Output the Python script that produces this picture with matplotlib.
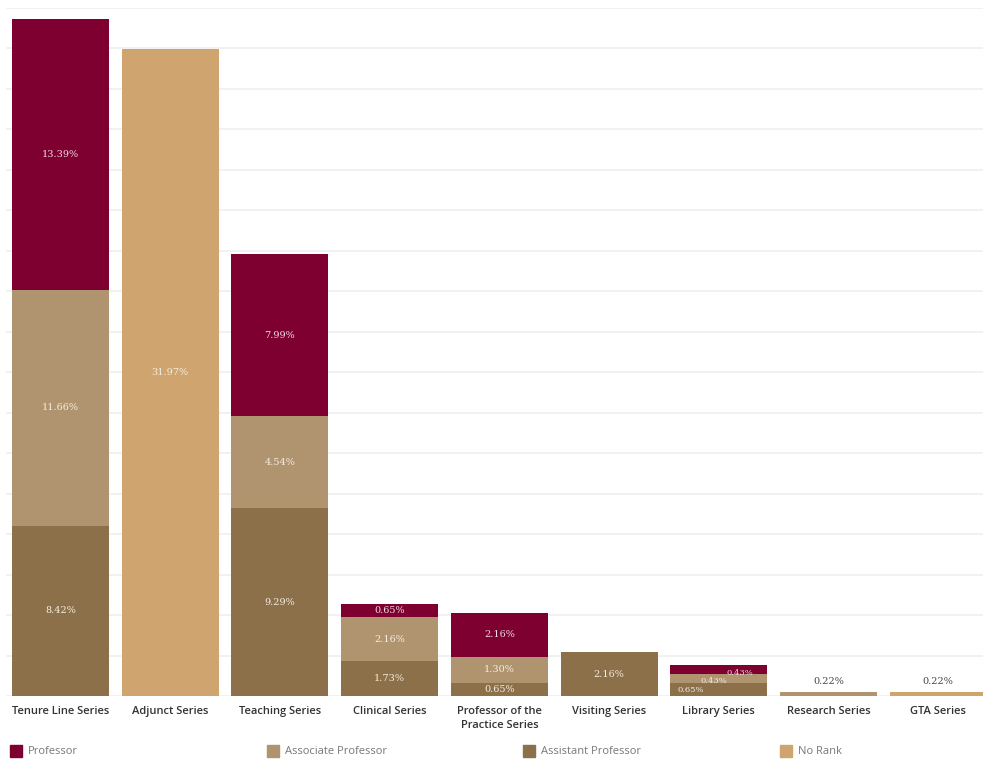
import numpy as np
import matplotlib.pyplot as plt
from matplotlib.patches import Rectangle

# ---- data (percent of faculty, by series and rank) ----
series = ["Tenure Line Series", "Adjunct Series", "Teaching Series",
          "Clinical Series", "Professor of the\nPractice Series",
          "Visiting Series", "Library Series", "Research Series", "GTA Series"]
assistant = [8.42, 0, 9.29, 1.73, 0.65, 2.16, 0.65, 0, 0]
associate = [11.66, 0, 4.54, 2.16, 1.30, 0, 0.43, 0.22, 0]
professor = [13.39, 0, 7.99, 0.65, 2.16, 0, 0.43, 0, 0]
no_rank = [0, 31.97, 0, 0, 0, 0, 0, 0, 0.22]

ranks = ["Professor", "Associate Professor", "Assistant Professor", "No Rank"]
colors = {"Professor": "#7d0030",
          "Associate Professor": "#b09470",
          "Assistant Professor": "#8c704a",
          "No Rank": "#cfa46e"}

# stacking order bottom -> top
stack = [("Assistant Professor", assistant),
         ("Associate Professor", associate),
         ("Professor", professor),
         ("No Rank", no_rank)]

plt.rcParams["font.family"] = ["Open Sans", "DejaVu Sans"]

fig = plt.figure(figsize=(9.83, 7.6), dpi=100)
# plot area runs a little past the right edge, so the last bar is cut off
ax = fig.add_axes([5.6 / 983, 64 / 760, 987.5 / 983, 688 / 760])

x = np.arange(len(series))
bottom = np.zeros(len(series))
small = {7, 8}  # thin bars get their label above, in dark text

# nudges (px) and size for the crowded Library Series labels
nudge = {(6, "Assistant Professor"): (-28, -1),
         (6, "Associate Professor"): (-5, -3),
         (6, "Professor"): (21, -3)}

for name, vals in stack:
    vals = np.array(vals, dtype=float)
    ax.bar(x, vals, bottom=bottom, width=0.885, color=colors[name],
           edgecolor="none", zorder=2)
    for i, v in enumerate(vals):
        if v <= 0:
            continue
        lab = f"{v:.2f}%"
        if i in small:
            ax.annotate(lab, (x[i], bottom[i] + v), xytext=(0, 4),
                        textcoords="offset points", ha="center", va="bottom",
                        fontsize=7, color="#444444", family="DejaVu Serif")
        else:
            dx, dy = nudge.get((i, name), (0, 0))
            fs = 6 if (i, name) in nudge else 7
            txt_c = "#f2dbe3" if name == "Professor" else "#f4ece0"
            ax.annotate(lab, (x[i], bottom[i] + v / 2), xytext=(dx * 0.72, dy * 0.72),
                        textcoords="offset points", ha="center", va="center",
                        fontsize=fs, color=txt_c, family="DejaVu Serif")
    bottom += vals

ax.set_xlim(-0.5, len(series) - 0.5)
ax.set_ylim(0, 34)
ax.set_yticks(np.arange(0, 35, 2))
ax.yaxis.grid(True, color="#efefef", lw=1.2, zorder=0)
ax.tick_params(axis="y", left=False, labelleft=False)
ax.tick_params(axis="x", length=0, pad=7)
ax.set_xticks(x)
ax.set_xticklabels(series, fontsize=8, fontweight="semibold", color="#333333",
                   linespacing=1.4)
for sp in ax.spines.values():
    sp.set_visible(False)

# legend row along the bottom
for k, name in enumerate(ranks):
    x0 = (10 + k * 256.5) / 983
    fig.add_artist(Rectangle((x0, 3 / 760), 12 / 983, 12 / 760,
                             transform=fig.transFigure, color=colors[name]))
    fig.text(x0 + 18 / 983, 9 / 760, name, fontsize=8, color="#777777",
             va="center", ha="left")

fig.savefig("out.png", dpi=100)
